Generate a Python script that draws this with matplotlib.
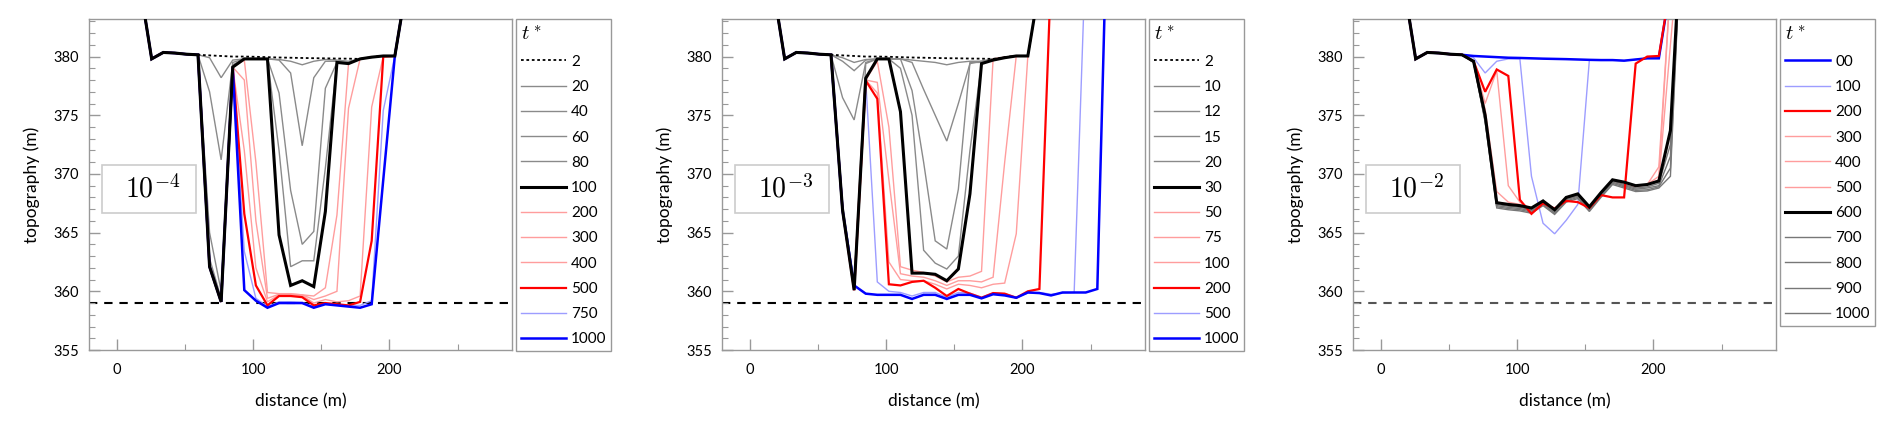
import numpy as np
import matplotlib
matplotlib.use("Agg")
import matplotlib.pyplot as plt
from matplotlib.patches import Rectangle

plt.rcParams['font.family'] = ['Lato', 'DejaVu Sans']
plt.rcParams['mathtext.fontset'] = 'cm'

# distance along the profile (m)
x_dist = [8.5, 17, 25.5, 34, 42.5, 51, 59.5, 68, 76.5, 85, 93.5, 102, 110.5, 119,
          127.5, 136, 144.5, 153, 161.5, 170, 178.5, 187, 195.5, 204, 212.5, 221,
          229.5, 238, 246.5, 255, 263.5]

# banks shared by the profiles (0..59.5 m and 212.5..263.5 m)
left_bank = [392, 386, 379.8, 380.35, 380.3, 380.2, 380.15]
high_bank = [386, 392, 398, 404, 410, 416, 422]

# ---- panel 1 (10^-4), values for 68..204 m
p1_t2 = [380.1, 380.05, 380.0, 380.0, 379.98, 379.95, 379.92, 379.9, 379.88, 379.86, 379.85, 379.83, 379.82, 379.8, 379.95, 380.05, 380.05]
p1_t20 = [379.9, 378.2, 379.7, 379.8, 379.8, 379.8, 379.75, 379.6, 379.3, 379.6, 379.75, 379.7, 379.6, 379.8, 379.95, 380.05, 380.05]
p1_t40 = [377.0, 371.2, 379.5, 379.8, 379.8, 379.8, 379.7, 378.6, 372.4, 378.2, 379.6, 379.6, 379.5, 379.8, 379.95, 380.05, 380.05]
p1_t60 = [365.0, 360.0, 379.3, 379.8, 379.8, 379.8, 376.9, 368.6, 364.0, 365.1, 377.3, 379.5, 379.5, 379.8, 379.95, 380.05, 380.05]
p1_t80 = [362.8, 359.4, 379.2, 379.8, 379.8, 379.8, 372.0, 362.1, 362.6, 362.6, 370.5, 379.5, 379.45, 379.8, 379.95, 380.05, 380.05]
p1_t100 = [362.1, 359.1, 379.1, 379.8, 379.8, 379.8, 364.8, 360.5, 360.9, 360.4, 366.8, 379.5, 379.4, 379.8, 379.95, 380.05, 380.05]
p1_t200 = [362.1, 359.1, 379.1, 379.7, 371.0, 359.9, 359.8, 359.8, 359.7, 359.6, 360.3, 366.5, 379.4, 379.8, 379.95, 380.05, 380.05]
p1_t300 = [362.1, 359.1, 379.1, 378.0, 366.0, 359.4, 359.75, 359.75, 359.7, 359.3, 359.6, 360.0, 375.6, 379.8, 379.95, 380.05, 380.05]
p1_t400 = [362.1, 359.1, 379.1, 372.0, 362.0, 359.1, 359.7, 359.7, 359.65, 359.0, 359.3, 359.1, 359.2, 359.6, 375.7, 380.0, 380.05]
p1_t500 = [362.1, 359.1, 379.1, 366.6, 360.5, 358.8, 359.6, 359.6, 359.5, 358.8, 359.0, 358.9, 358.8, 359.1, 364.3, 380.0, 380.05]
p1_t750 = [362.1, 359.1, 379.1, 363.4, 359.4, 358.7, 359.1, 359.1, 359.05, 358.7, 358.95, 358.85, 358.8, 358.8, 359.2, 375.4, 380.05]
p1_t1000 = [362.1, 359.1, 379.1, 360.1, 359.2, 358.6, 359.0, 359.0, 359.0, 358.6, 358.9, 358.8, 358.7, 358.6, 358.9, 369.5, 380.05]
p1_labels = ['2', '20', '40', '60', '80', '100', '200', '300', '400', '500', '750', '1000']

# ---- panel 2 (10^-3), values for 68..204 m (+ own right bank where eroded)
p2_t2 = p1_t2
p2_t10 = [379.9, 379.5, 379.75, 379.8, 379.8, 379.8, 379.7, 379.6, 379.5, 379.3, 379.5, 379.6, 379.6, 379.8, 379.95, 380.05, 380.05]
p2_t12 = [379.6, 378.8, 379.7, 379.8, 379.8, 379.8, 379.5, 377.2, 375.0, 372.8, 376.0, 379.4, 379.6, 379.8, 379.95, 380.05, 380.05]
p2_t15 = [376.5, 374.6, 379.5, 379.8, 379.8, 379.8, 377.1, 371.0, 364.3, 363.6, 368.7, 379.5, 379.5, 379.8, 379.95, 380.05, 380.05]
p2_t20 = [367.5, 360.6, 379.4, 379.8, 379.8, 379.0, 375.0, 363.5, 362.4, 361.9, 363.0, 372.0, 379.4, 379.8, 379.95, 380.05, 380.05]
p2_t30 = [366.9, 360.1, 378.15, 379.8, 379.8, 375.3, 361.55, 361.55, 361.45, 360.9, 361.9, 368.3, 379.4, 379.7, 379.9, 380.05, 380.05]
p2_t50 = [366.9, 360.1, 378.0, 379.6, 374.0, 362.1, 361.8, 361.6, 361.3, 360.8, 361.2, 361.3, 361.7, 379.8, 379.95, 380.05, 380.05]
p2_t75 = [366.9, 360.1, 378.0, 377.8, 369.5, 361.5, 361.3, 361.2, 360.9, 360.5, 360.9, 360.9, 360.8, 361.2, 371.0, 380.05, 380.05]
p2_t100 = [366.9, 360.1, 378.0, 376.9, 362.5, 361.0, 360.9, 360.9, 360.6, 360.2, 360.6, 360.5, 360.3, 360.6, 360.7, 364.9, 380.05]
p2_t200 = [366.9, 360.1, 377.95, 376.4, 360.6, 360.5, 360.8, 360.9, 360.3, 359.6, 360.2, 359.8, 359.45, 359.85, 359.8, 359.45, 360.0]
p2_t200_tail = [360.2, 387, 398, 404, 410, 416, 422]
p2_t500 = [366.9, 360.1, 378.0, 360.8, 360.0, 359.9, 359.6, 359.9, 359.9, 359.5, 359.9, 359.85, 359.5, 359.85, 359.8, 359.5, 359.85]
p2_t500_tail = [359.9, 359.75, 359.85, 359.9, 389, 416, 422]
p2_t1000 = [366.9, 360.5, 359.8, 359.7, 359.7, 359.7, 359.35, 359.7, 359.7, 359.35, 359.7, 359.7, 359.4, 359.75, 359.65, 359.45, 359.9]
p2_t1000_tail = [359.85, 359.65, 359.9, 359.9, 359.9, 360.2, 398]
p2_labels = ['2', '10', '12', '15', '20', '30', '50', '75', '100', '200', '500', '1000']

# ---- panel 3 (10^-2), values for 68..204 m
p3_t0 = [380.05, 380.0, 379.95, 379.9, 379.88, 379.85, 379.82, 379.8, 379.78, 379.75, 379.72, 379.7, 379.7, 379.65, 379.75, 379.85, 379.85]
p3_t100 = [379.9, 378.6, 379.6, 379.8, 379.8, 369.8, 365.8, 364.9, 366.05, 367.4, 379.7, 379.7, 379.7, 379.65, 379.75, 379.85, 379.85]
p3_t200 = [379.6, 377.0, 378.9, 378.35, 367.8, 366.6, 367.5, 367.05, 367.7, 367.6, 367.1, 368.2, 368.0, 368.0, 379.4, 380.0, 380.05]
p3_t300 = [379.6, 376.0, 378.8, 369.0, 367.6, 367.0, 367.6, 367.0, 367.9, 368.1, 367.2, 368.3, 369.3, 369.0, 368.9, 369.1, 370.6]
p3_t400 = [379.6, 375.5, 368.5, 367.6, 367.4, 367.0, 367.7, 367.0, 368.0, 368.2, 367.2, 368.4, 369.4, 369.2, 369.0, 369.1, 369.8]
p3_t500 = [379.6, 375.2, 367.6, 367.45, 367.35, 367.05, 367.7, 366.95, 368.0, 368.3, 367.2, 368.4, 369.5, 369.3, 369.0, 369.1, 369.5]
p3_t500_tail = [381, 392, 398, 404, 410, 416, 422]
p3_t600 = [379.6, 375.0, 367.55, 367.4, 367.3, 367.1, 367.7, 366.95, 368.0, 368.3, 367.2, 368.4, 369.5, 369.3, 369.0, 369.1, 369.4]
p3_t600_tail = [373.7, 392, 398, 404, 410, 416, 422]
p3_t700 = [379.5, 374.8, 367.4, 367.25, 367.15, 366.95, 367.6, 366.85, 367.9, 368.2, 367.1, 368.3, 369.4, 369.1, 368.8, 368.9, 369.2]
p3_t700_tail = [372.5, 392, 398, 404, 410, 416, 422]
p3_t800 = [379.5, 374.6, 367.3, 367.15, 367.05, 366.85, 367.5, 366.75, 367.8, 368.1, 367.0, 368.2, 369.3, 369.0, 368.7, 368.8, 369.0]
p3_t800_tail = [371.5, 392, 398, 404, 410, 416, 422]
p3_t900 = [379.5, 374.5, 367.2, 367.05, 366.95, 366.75, 367.4, 366.65, 367.7, 368.0, 366.9, 368.1, 369.2, 368.9, 368.6, 368.65, 368.9]
p3_t900_tail = [370.5, 392, 398, 404, 410, 416, 422]
p3_t1000 = [379.5, 374.4, 367.1, 366.95, 366.85, 366.65, 367.3, 366.55, 367.6, 367.9, 366.8, 368.0, 369.1, 368.8, 368.5, 368.55, 368.8]
p3_t1000_tail = [369.8, 392, 398, 404, 410, 416, 422]
p3_labels = ['00', '100', '200', '300', '400', '500', '600', '700', '800', '900', '1000']

base_level = 359.0
tags = ['$10^{-4}$', '$10^{-3}$', '$10^{-2}$']

GREY = '#8a8a8a'
PINK = '#ff9d9d'
LBLUE = '#9d9dff'
dotted = dict(color='k', lw=1.3, ls=(0, (1.5, 1.5)), z=4)
grey = dict(color=GREY, lw=1.0, ls='-', z=2)
black = dict(color='k', lw=2.2, ls='-', z=6)
pink = dict(color=PINK, lw=1.0, ls='-', z=2)
red = dict(color='#ff0000', lw=1.6, ls='-', z=3)
lblue = dict(color=LBLUE, lw=1.0, ls='-', z=2)
blue = dict(color='#0000ff', lw=1.8, ls='-', z=3)
dgrey = dict(color='#777777', lw=1.0, ls='-', z=2)

panels = [
    ([left_bank + p1_t2 + high_bank, left_bank + p1_t20 + high_bank,
      left_bank + p1_t40 + high_bank, left_bank + p1_t60 + high_bank,
      left_bank + p1_t80 + high_bank, left_bank + p1_t100 + high_bank,
      left_bank + p1_t200 + high_bank, left_bank + p1_t300 + high_bank,
      left_bank + p1_t400 + high_bank, left_bank + p1_t500 + high_bank,
      left_bank + p1_t750 + high_bank, left_bank + p1_t1000 + high_bank],
     [dotted, grey, grey, grey, grey, black, pink, pink, pink, red, lblue, blue],
     p1_labels),
    ([left_bank + p2_t2 + high_bank, left_bank + p2_t10 + high_bank,
      left_bank + p2_t12 + high_bank, left_bank + p2_t15 + high_bank,
      left_bank + p2_t20 + high_bank, left_bank + p2_t30 + high_bank,
      left_bank + p2_t50 + high_bank, left_bank + p2_t75 + high_bank,
      left_bank + p2_t100 + high_bank, left_bank + p2_t200 + p2_t200_tail,
      left_bank + p2_t500 + p2_t500_tail, left_bank + p2_t1000 + p2_t1000_tail],
     [dotted, grey, grey, grey, grey, black, pink, pink, pink, red, lblue, blue],
     p2_labels),
    ([left_bank + p3_t0 + high_bank, left_bank + p3_t100 + high_bank,
      left_bank + p3_t200 + high_bank, left_bank + p3_t300 + high_bank,
      left_bank + p3_t400 + high_bank, left_bank + p3_t500 + p3_t500_tail,
      left_bank + p3_t600 + p3_t600_tail, left_bank + p3_t700 + p3_t700_tail,
      left_bank + p3_t800 + p3_t800_tail, left_bank + p3_t900 + p3_t900_tail,
      left_bank + p3_t1000 + p3_t1000_tail],
     [blue, lblue, red, pink, pink, pink, black, dgrey, dgrey, dgrey, dgrey],
     p3_labels),
]

fig = plt.figure(figsize=(18.92, 4.29), dpi=100)
lefts = [89, 722, 1353]
W, H = 1892.0, 429.0

for i, (curves, styles, labels) in enumerate(panels):
    ax = fig.add_axes([lefts[i] / W, 79 / H, 423 / W, 331 / H])
    for prof, st, lab in zip(curves, styles, labels):
        ax.plot(x_dist, prof, color=st['color'], lw=st['lw'], ls=st['ls'],
                zorder=st['z'], label=lab, solid_joinstyle='miter')
    dash_col = 'k' if i < 2 else '#555555'
    ax.axhline(base_level, color=dash_col, lw=1.5, ls=(0, (4, 3.3)), zorder=1)

    ax.set_xlim(-20.5, 290)
    ax.set_ylim(355, 383.2)
    ax.set_xticks([0, 100, 200])
    ax.set_xticks([50, 150, 250], minor=True)
    ax.set_yticks([355, 360, 365, 370, 375, 380])
    ax.set_yticks(np.arange(356, 384), minor=True)
    ax.tick_params(which='both', direction='in', color='#999999', labelsize=10.5)
    ax.tick_params(which='major', length=8, width=1)
    ax.tick_params(which='minor', length=4, width=0.8)
    ax.tick_params(axis='x', which='major', pad=9)
    ax.tick_params(axis='y', which='major', pad=7)
    for sp in ax.spines.values():
        sp.set_color('#999999')
        sp.set_linewidth(1.0)
    ax.set_xlabel('distance (m)', fontsize=12.5)
    ax.set_ylabel('topography (m)', fontsize=12.5)
    ax.xaxis.set_label_coords(0.5, -0.13)
    ax.yaxis.set_label_coords(-0.115, 0.5)

    ax.add_patch(Rectangle((0.03, 0.414), 0.224, 0.145, transform=ax.transAxes,
                           facecolor='white', edgecolor='#cccccc', lw=1.2, zorder=7))
    ax.text(0.15, 0.488, tags[i], transform=ax.transAxes, fontsize=20,
            ha='center', va='center', zorder=8)

    leg = ax.legend(loc='upper left', bbox_to_anchor=((lefts[i] + 427) / W, (H - 19) / H),
                    bbox_transform=fig.transFigure, borderaxespad=0, fontsize=11,
                    title='$t^*$', title_fontsize=15, alignment='left',
                    handlelength=3.0, handletextpad=0.3, borderpad=0.3,
                    labelspacing=0.735, fancybox=False, framealpha=1,
                    edgecolor='#999999')
    leg.get_frame().set_linewidth(1.0)

fig.savefig('out.png', dpi=100)
